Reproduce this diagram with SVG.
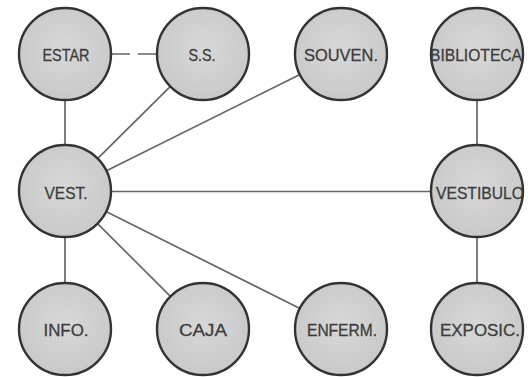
<svg xmlns="http://www.w3.org/2000/svg" width="530" height="377" viewBox="0 0 530 377">
<defs>
<radialGradient id="g" cx="50%" cy="45%" r="55%">
<stop offset="0" stop-color="#d8d8d8"/>
<stop offset="1" stop-color="#c9c9c9"/>
</radialGradient>
<style>
.n circle{fill:url(#g);stroke:#333;stroke-width:2.4}
.n text{font-family:"Liberation Sans",Arial,sans-serif;font-size:17px;fill:#3d3d3d;stroke:#3d3d3d;stroke-width:0.3;text-anchor:middle}
.c line{stroke:#666;stroke-width:1.7;fill:none}
</style>
</defs>
<rect width="530" height="377" fill="#fff"/>
<g id="connectors" class="c">
<line x1="112" y1="54" x2="157" y2="54" stroke-dasharray="18 8"/>
<line x1="65" y1="100" x2="65" y2="145"/>
<line x1="97.6" y1="158.6" x2="170.4" y2="86.4"/>
<line x1="106" y1="171" x2="300" y2="74.5"/>
<line x1="111" y1="191.5" x2="431" y2="191.5" stroke-width="2.4"/>
<line x1="65" y1="237" x2="65" y2="283"/>
<line x1="97.6" y1="223.6" x2="170.4" y2="296.4"/>
<line x1="106" y1="211.5" x2="300" y2="308.5"/>
<line x1="477" y1="100" x2="477" y2="145"/>
<line x1="477" y1="237" x2="477" y2="283"/>
</g>
<g id="estar" class="n"><circle cx="65" cy="54" r="46"/><text x="66" y="61" textLength="47" lengthAdjust="spacingAndGlyphs">ESTAR</text></g>
<g id="ss" class="n"><circle cx="203" cy="54" r="46"/><text x="202" y="61" textLength="27" lengthAdjust="spacingAndGlyphs">S.S.</text></g>
<g id="souven" class="n"><circle cx="341" cy="54" r="46"/><text x="341" y="61" textLength="74" lengthAdjust="spacingAndGlyphs">SOUVEN.</text></g>
<g id="biblioteca" class="n"><circle cx="477" cy="54" r="46"/><text x="476" y="61" textLength="92" lengthAdjust="spacingAndGlyphs">BIBLIOTECA</text></g>
<g id="vest" class="n"><circle cx="65" cy="191" r="46"/><text x="66" y="199" textLength="43" lengthAdjust="spacingAndGlyphs">VEST.</text></g>
<g id="vestibulo" class="n"><circle cx="477" cy="191" r="46"/><text x="480" y="199" textLength="88" lengthAdjust="spacingAndGlyphs">VESTIBULO</text></g>
<g id="info" class="n"><circle cx="65" cy="329" r="46"/><text x="66" y="336" textLength="45" lengthAdjust="spacingAndGlyphs">INFO.</text></g>
<g id="caja" class="n"><circle cx="203" cy="329" r="46"/><text x="203" y="336" textLength="48" lengthAdjust="spacingAndGlyphs">CAJA</text></g>
<g id="enferm" class="n"><circle cx="341" cy="329" r="46"/><text x="342" y="336" textLength="70" lengthAdjust="spacingAndGlyphs">ENFERM.</text></g>
<g id="exposic" class="n"><circle cx="477" cy="329" r="46"/><text x="480" y="336" textLength="80" lengthAdjust="spacingAndGlyphs">EXPOSIC.</text></g>
</svg>
